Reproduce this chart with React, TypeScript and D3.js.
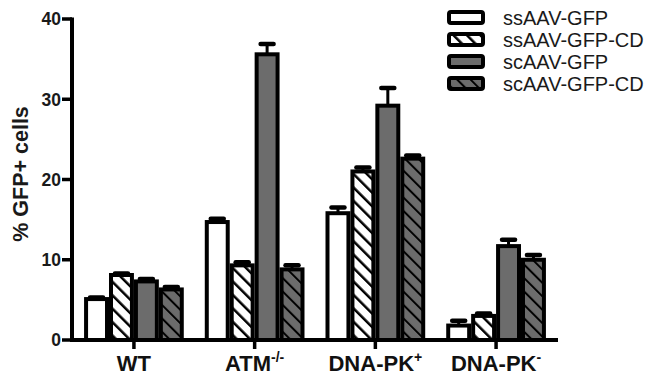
import React from 'react';
import * as d3 from 'd3';

const groups = ['WT', 'ATM', 'DNA-PK+', 'DNA-PK-'];
const groupBase = ['WT', 'ATM', 'DNA-PK', 'DNA-PK'];
const groupSup = ['', '-/-', '+', '-'];
const series = ['ssAAV-GFP', 'ssAAV-GFP-CD', 'scAAV-GFP', 'scAAV-GFP-CD'];
const means = [
  [5.1, 8.1, 7.3, 6.3],
  [14.7, 9.3, 35.6, 8.8],
  [15.8, 21.0, 29.2, 22.6],
  [1.8, 3.0, 11.7, 10.0],
];
const errors = [
  [0.2, 0.2, 0.3, 0.3],
  [0.4, 0.4, 1.3, 0.5],
  [0.7, 0.5, 2.2, 0.4],
  [0.6, 0.3, 0.8, 0.6],
];
const yTicks = [0, 10, 20, 30, 40];

const GRAY = '#6c6c6c';
const fills = ['#fff', 'url(#hatchW)', GRAY, 'url(#hatchG)'];

const App: React.FC = () => {
  const width = 669;
  const height = 377;
  const left = 72;
  const right = 558;
  const bottom = 340;
  const top = 19;

  const y = d3.scaleLinear().domain([0, 40]).range([bottom, top]);
  const x0 = d3.scaleBand().domain(groups).range([left, right]).paddingInner(0.174).paddingOuter(0.1);
  const x1 = d3.scaleBand().domain(series).range([2, x0.bandwidth() - 2]).paddingInner(0.16);

  const font = 'Liberation Sans, Arial, sans-serif';

  return (
    <svg width={width} height={height} style={{ position: 'absolute', left: 0, top: 0 }}>
      <defs>
        <pattern id="hatchW" patternUnits="userSpaceOnUse" width="9.5" height="9.5" patternTransform="rotate(-45)">
          <rect width="9.5" height="9.5" fill="#fff" />
          <line x1="0" y1="0" x2="0" y2="9.5" stroke="#000" strokeWidth="5" />
        </pattern>
        <pattern id="hatchG" patternUnits="userSpaceOnUse" width="9.5" height="9.5" patternTransform="rotate(-45)">
          <rect width="9.5" height="9.5" fill={GRAY} />
          <line x1="0" y1="0" x2="0" y2="9.5" stroke="#000" strokeWidth="4" />
        </pattern>
      </defs>
      <rect width={width} height={height} fill="#fff" />

      {/* bars */}
      {groups.map((g, gi) => (
        <g key={g} transform={`translate(${x0(g)},0)`}>
          {series.map((s, si) => {
            const bx = x1(s)!;
            const bw = x1.bandwidth();
            const v = means[gi][si];
            const e = errors[gi][si];
            const cx = bx + bw / 2;
            return (
              <g key={s}>
                <line x1={cx} x2={cx} y1={y(v)} y2={y(v + e)} stroke="#000" strokeWidth={3} />
                <line x1={cx - 6.5} x2={cx + 6.5} y1={y(v + e)} y2={y(v + e)} stroke="#000" strokeWidth={4.5} strokeLinecap="round" />
                <rect x={bx} y={y(v)} width={bw} height={bottom - y(v)} fill={fills[si]} stroke="#000" strokeWidth={4} />
              </g>
            );
          })}
        </g>
      ))}

      {/* y axis */}
      <line x1={left} x2={left} y1={top - 1.5} y2={bottom + 2} stroke="#000" strokeWidth={4} />
      {yTicks.map(t => (
        <g key={t}>
          <line x1={left - 10} x2={left} y1={y(t)} y2={y(t)} stroke="#000" strokeWidth={3.5} />
          <text x={left - 11} y={y(t)} dy="0.36em" textAnchor="end" fontFamily={font} fontSize={17.5} fontWeight="bold" fill="#1a1a1a">
            {t}
          </text>
        </g>
      ))}
      <text
        transform={`translate(28,174) rotate(-90)`}
        textAnchor="middle"
        fontFamily={font}
        fontSize={21.5}
        fontWeight="bold"
        fill="#1a1a1a"
      >
        % GFP+ cells
      </text>

      {/* x axis */}
      <line x1={left - 2} x2={right} y1={bottom} y2={bottom} stroke="#000" strokeWidth={4} />
      {groups.map((g, gi) => {
        const cx = x0(g)! + x0.bandwidth() / 2;
        return (
          <g key={g}>
            <line x1={cx} x2={cx} y1={bottom} y2={bottom + 9} stroke="#000" strokeWidth={3.5} />
            <text x={cx} y={371} textAnchor="middle" fontFamily={font} fontSize={22} fontWeight="bold" fill="#111">
              {groupBase[gi]}
              {groupSup[gi] && (
                <tspan dy={-9} fontSize={14}>{groupSup[gi]}</tspan>
              )}
            </text>
          </g>
        );
      })}

      {/* legend */}
      {series.map((s, si) => {
        const ly = 17.5 + si * 22;
        return (
          <g key={s}>
            <rect x={449} y={ly - 5.5} width={34} height={11} rx={2} fill={fills[si]} stroke="#000" strokeWidth={4} />
            <text x={503} y={ly} dy="0.36em" fontFamily={font} fontSize={20} fill="#1a1a1a">
              {s}
            </text>
          </g>
        );
      })}
    </svg>
  );
};

export default App;
